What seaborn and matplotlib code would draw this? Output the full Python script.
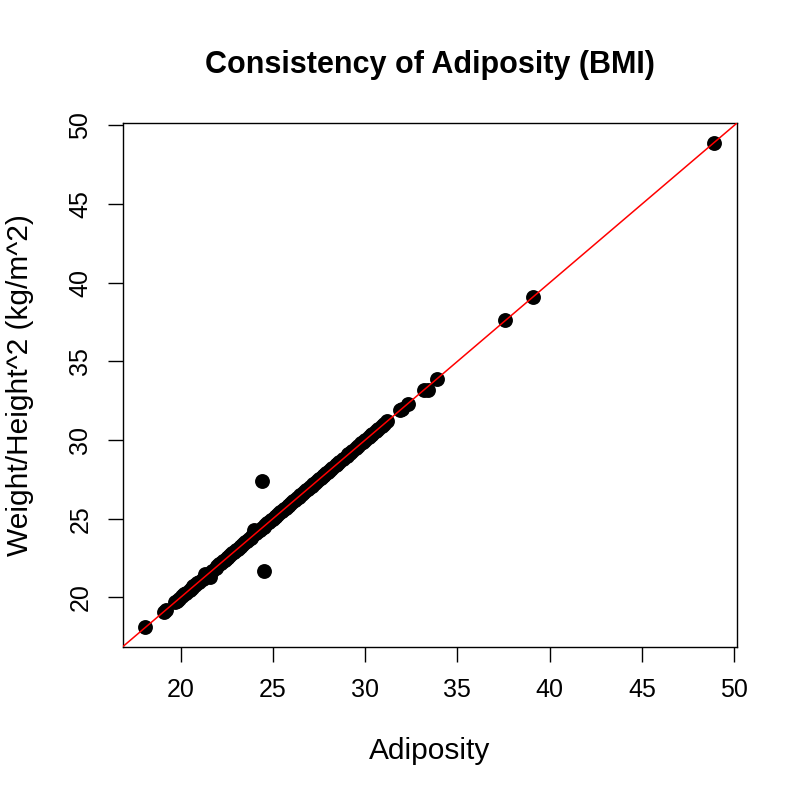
import matplotlib
matplotlib.use("Agg")
import matplotlib.pyplot as plt
import seaborn as sns
import pandas as pd

adiposity = [18.1, 19.1, 19.2, 19.7, 19.8, 19.9, 20.1, 20.2, 20.3, 20.5, 20.6, 20.7,
             20.8, 20.9, 21.0, 21.2, 21.3, 21.4, 21.6, 21.7, 21.9, 22.0, 22.1, 22.2,
             22.3, 22.4, 22.5, 22.6, 22.7, 22.8, 22.9, 23.0, 23.1, 23.2, 23.3, 23.4,
             23.5, 23.6, 23.7, 23.8, 23.9, 24.0, 24.1, 24.2, 24.3, 24.4, 24.5, 24.6,
             24.7, 24.8, 24.9, 25.0, 25.1, 25.2, 25.3, 25.4, 25.5, 25.6, 25.7, 25.8,
             25.9, 26.0, 26.1, 26.2, 26.3, 26.4, 26.5, 26.6, 26.7, 26.8, 26.9, 27.0,
             27.1, 27.2, 27.3, 27.4, 27.5, 27.6, 27.7, 27.8, 27.9, 28.0, 28.1, 28.2,
             28.4, 28.5, 28.6, 28.8, 29.0, 29.1, 29.2, 29.3, 29.5, 29.6, 29.8, 29.9,
             30.0, 30.2, 30.3, 30.4, 30.6, 30.7, 30.9, 31.0, 31.2, 31.9, 32.0, 32.3,
             33.2, 33.4, 33.9, 37.6, 39.1, 48.9, 24.4, 24.5]
bmi = [18.1, 19.1, 19.2, 19.7, 19.8, 19.9, 20.1, 20.2, 20.3, 20.5, 20.6, 20.7,
       20.8, 20.9, 21.0, 21.2, 21.5, 21.4, 21.3, 21.7, 21.9, 22.0, 22.1, 22.2,
       22.3, 22.4, 22.5, 22.6, 22.7, 22.8, 22.9, 23.0, 23.1, 23.2, 23.3, 23.4,
       23.5, 23.6, 23.7, 23.8, 23.9, 24.3, 24.1, 24.2, 24.3, 24.4, 24.5, 24.6,
       24.7, 24.8, 24.9, 25.0, 25.1, 25.2, 25.3, 25.4, 25.5, 25.6, 25.7, 25.8,
       25.9, 26.0, 26.1, 26.2, 26.3, 26.4, 26.5, 26.6, 26.7, 26.8, 26.9, 27.0,
       27.1, 27.2, 27.3, 27.4, 27.5, 27.6, 27.7, 27.8, 27.9, 28.0, 28.1, 28.2,
       28.4, 28.5, 28.6, 28.8, 29.0, 29.1, 29.2, 29.3, 29.5, 29.6, 29.8, 29.9,
       30.0, 30.2, 30.3, 30.4, 30.6, 30.7, 30.9, 31.0, 31.2, 31.9, 32.0, 32.3,
       33.2, 33.2, 33.9, 37.6, 39.1, 48.9, 27.4, 21.7]
ticks = [20, 25, 30, 35, 40, 45, 50]

df = pd.DataFrame({"adiposity": adiposity, "bmi": bmi})

sns.set_style("ticks")
plt.rcParams["font.family"] = ["Liberation Sans", "DejaVu Sans"]
plt.rcParams["text.color"] = "black"
plt.rcParams["axes.labelcolor"] = "black"
plt.rcParams["xtick.color"] = "black"
plt.rcParams["ytick.color"] = "black"

fig = plt.figure(figsize=(8, 8), dpi=100)
ax = fig.add_axes([0.1534, 0.1916, 0.7675, 0.6543])

sns.scatterplot(data=df, x="adiposity", y="bmi", ax=ax, color="black",
                s=115, edgecolor="black", linewidth=0, zorder=2)
lo, hi = 16.87, 50.13
ax.set_xlim(lo, hi)
ax.set_ylim(lo, hi)
ax.axline((20, 20), slope=1, color="red", linewidth=1.1, zorder=3)

ax.set_xticks(ticks)
ax.set_yticks(ticks)
ax.set_xticklabels([str(t) for t in ticks], fontsize=18)
ax.set_yticklabels([str(t) for t in ticks], fontsize=18, rotation=90, va="center")
ax.tick_params(direction="out", length=10.8, width=1)
ax.tick_params(axis="x", pad=12)
ax.tick_params(axis="y", pad=11)

for sp in ax.spines.values():
    sp.set_visible(True)
    sp.set_linewidth(1)
    sp.set_color("black")

ax.set_xlabel("Adiposity", fontsize=21.5, labelpad=25)
ax.set_ylabel("Weight/Height^2 (kg/m^2)", fontsize=21.5, labelpad=25)
ax.set_title("Consistency of Adiposity (BMI)", fontsize=22, fontweight="bold", pad=36)

fig.savefig("out.png", dpi=100, facecolor="white")
